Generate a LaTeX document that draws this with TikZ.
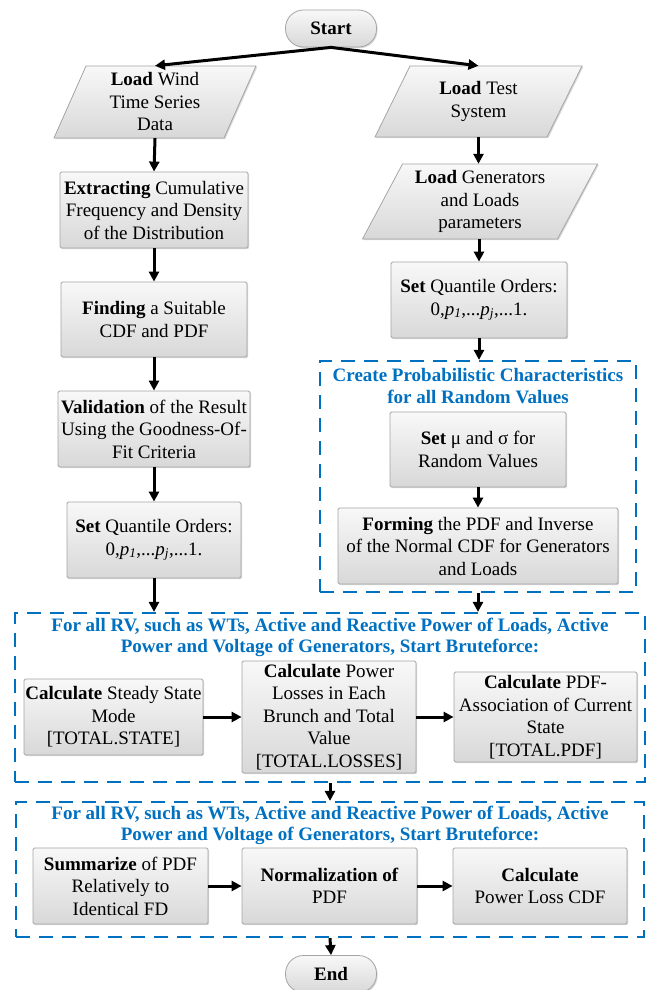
\documentclass[tikz,border=0pt]{standalone}
\usepackage{fontspec}
\setmainfont{Liberation Serif}
\usetikzlibrary{arrows.meta,shadows,calc}
\definecolor{myblue}{RGB}{0,112,192}
\definecolor{boxtop}{RGB}{248,248,248}
\definecolor{boxbot}{RGB}{216,216,216}
\definecolor{boxline}{RGB}{165,165,165}
\tikzset{
  fillstyle/.style={draw=boxline, line width=0.8pt, top color=boxtop, bottom color=boxbot,
    drop shadow={shadow xshift=1.2pt, shadow yshift=-1.2pt, opacity=0.3}},
  procbox/.style={fillstyle, rectangle, rounded corners=1.5pt, inner sep=1pt, align=center,
    font=\fontsize{19}{22.5}\selectfont},
  termbox/.style={procbox, rounded corners=18pt, minimum width=91pt, minimum height=37pt},
  paratext/.style={rectangle, inner sep=1pt, align=center, font=\fontsize{19}{22.5}\selectfont},
  dashbox/.style={draw=myblue, line width=2.2pt, dash pattern=on 14pt off 9pt, rectangle, inner sep=0pt},
  titletext/.style={text=myblue, inner sep=0pt, align=center, font=\bfseries\fontsize{19}{21}\selectfont},
  arr/.style={line width=3pt, -{Triangle[length=10pt,width=10pt]}},
}
% parallelogram body: xc, yc, w, h, slant
\newcommand\parashape[5]{%
  \path[fillstyle] (#1-#3/2+#5/2, #2-#4/2) -- (#1+#3/2+#5/2, #2-#4/2) --
    (#1+#3/2-#5/2, #2+#4/2) -- (#1-#3/2-#5/2, #2+#4/2) -- cycle;}
\begin{document}
\begin{tikzpicture}[x=1pt,y=-1pt]
\useasboundingbox[fill=white] (0,0) rectangle (656,990);

% start
\node[termbox] (start) at (331,28.5) {\textbf{Start}};

% left column
\parashape{155}{102}{170}{72}{32}
\node[paratext, minimum height=72pt] (lw) at (155,102) {\textbf{Load} Wind\\Time Series\\Data};
\node[procbox, minimum width=188pt, minimum height=76pt] (extr) at (154,210)
  {\textbf{Extracting} Cumulative\\Frequency and Density\\of the Distribution};
\node[procbox, minimum width=186pt, minimum height=75pt] (find) at (154,319.5)
  {\textbf{Finding} a Suitable\\CDF and PDF};
\node[procbox, minimum width=192pt, minimum height=76pt] (valid) at (154,429)
  {\textbf{Validation} of the Result\\Using the Goodness-Of-\\Fit Criteria};
\node[procbox, minimum width=174pt, minimum height=76pt] (setl) at (154,540)
  {\textbf{Set} Quantile Orders:\\0,\textit{p}\textsubscript{\textit{1}},...\textit{p}\textsubscript{\textit{j}},...1.};

% right column
\parashape{478.5}{101.5}{172}{71}{35}
\node[paratext, minimum height=71pt] (lt) at (478.5,101.5) {\textbf{Load} Test\\System};
\parashape{480}{201.5}{195}{75}{40}
\node[paratext, minimum height=75pt] (gen) at (480,201.5) {\textbf{Load} Generators\\and Loads\\parameters};
\node[procbox, minimum width=176pt, minimum height=76pt] (setr) at (479,300)
  {\textbf{Set} Quantile Orders:\\0,\textit{p}\textsubscript{\textit{1}},...\textit{p}\textsubscript{\textit{j}},...1.};

\node[dashbox, minimum width=316pt, minimum height=231pt] (create) at (478,476.5) {};
\node[titletext, font=\bfseries\fontsize{19}{22}\selectfont] (createtitle) at (478,386)
  {Create Probabilistic Characteristics\\for all Random Values};
\node[procbox, minimum width=176pt, minimum height=75pt] (setmu) at (478,449.5)
  {\textbf{Set} μ and σ for\\Random Values};
\node[procbox, minimum width=280pt, minimum height=76pt] (forming) at (478,546)
  {\textbf{Forming} the PDF and Inverse\\of the Normal CDF for Generators\\and Loads};

% box 1
\node[dashbox, minimum width=630pt, minimum height=169pt] (box1) at (330,697.5) {};
\node[titletext] (title1) at (330,637)
  {For all RV, such as WTs, Active and Reactive Power of Loads, Active\\Power and Voltage of Generators, Start Bruteforce:};
\node[procbox, minimum width=179pt, minimum height=76pt] (steady) at (113.5,717)
  {\textbf{Calculate} Steady State\\Mode\\{[}TOTAL.STATE{]}};
\node[procbox, minimum width=174pt, minimum height=112pt] (losses) at (329,717)
  {\textbf{Calculate} Power\\Losses in Each\\Brunch and Total\\Value\\{[}TOTAL.LOSSES{]}};
\node[procbox, minimum width=183pt, minimum height=90pt] (pdf) at (545.5,717)
  {\textbf{Calculate} PDF-\\Association of Current\\State\\{[}TOTAL.PDF{]}};

% box 2
\node[dashbox, minimum width=628pt, minimum height=135pt] (box2) at (330,869.5) {};
\node[titletext] (title2) at (330,825)
  {For all RV, such as WTs, Active and Reactive Power of Loads, Active\\Power and Voltage of Generators, Start Bruteforce:};
\node[procbox, minimum width=175pt, minimum height=76pt] (summ) at (120.5,886)
  {\textbf{Summarize} of PDF\\Relatively to\\Identical FD};
\node[procbox, minimum width=175pt, minimum height=76pt] (norm) at (329.5,886)
  {\textbf{Normalization of}\\PDF};
\node[procbox, minimum width=174pt, minimum height=76pt] (cdf) at (540,886)
  {\textbf{Calculate}\\Power Loss CDF};

\node[termbox] (end) at (331,974) {\textbf{End}};

% connectors
\draw[arr] (start.south) -- (lw.north);
\draw[arr] (start.south) -- (lt.north);
\draw[arr] (lw.south) -- (extr.north);
\draw[arr] (extr.south) -- (find.north);
\draw[arr] (find.south) -- (valid.north);
\draw[arr] (valid.south) -- (setl.north);
\draw[arr] (setl.south) -- (setl.south |- box1.north);
\draw[arr] (lt.south) -- (lt.south |- gen.north);
\draw[arr] (gen.south -| setr.north) -- (setr.north);
\draw[arr] (setr.south) -- (setr.south |- create.north);
\draw[arr] (setmu.south) -- (forming.north);
\draw[arr] (create.south) -- (create.south |- box1.north);
\draw[arr] (steady.east) -- (losses.west);
\draw[arr] (losses.east) -- (pdf.west);
\draw[arr] (box1.south) -- (box2.north);
\draw[arr] (summ.east) -- (norm.west);
\draw[arr] (norm.east) -- (cdf.west);
\draw[arr] (box2.south) -- (end.north);
\end{tikzpicture}
\end{document}
